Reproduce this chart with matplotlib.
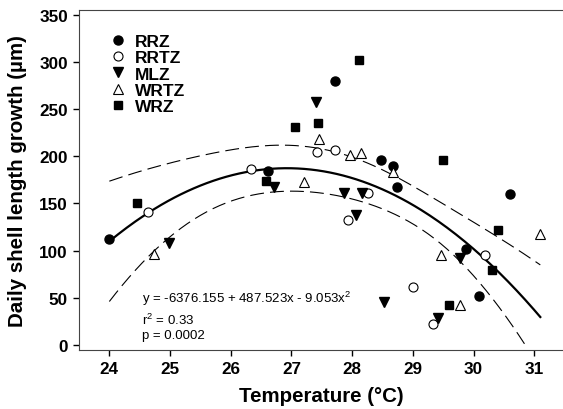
import numpy as np
import matplotlib
matplotlib.use("Agg")
import matplotlib.pyplot as plt

plt.rcParams['font.family'] = ['Liberation Sans', 'DejaVu Sans']
plt.rcParams['mathtext.default'] = 'regular'

# temperatures (°C) and daily growth (µm) per site
rrz_t = [24.0, 26.62, 27.72, 28.48, 28.67, 28.74, 29.88, 30.09, 30.6]
rrz_g = [112, 184, 280, 196, 190, 167, 102, 52, 160]
rrtz_t = [24.63, 26.33, 27.42, 27.72, 27.94, 28.26, 29.01, 29.34, 30.19]
rrtz_g = [141, 187, 205, 207, 132, 161, 61, 22, 95]
mlz_t = [24.98, 26.71, 27.41, 27.87, 28.06, 28.17, 28.53, 29.42, 29.78]
mlz_g = [108, 167, 258, 161, 138, 161, 46, 29, 92]
wrtz_t = [24.74, 27.21, 27.45, 27.96, 28.14, 28.68, 29.47, 29.77, 31.1]
wrtz_g = [96, 173, 218, 201, 204, 183, 95, 42, 118]
wrz_t = [24.45, 26.58, 27.06, 27.43, 28.11, 29.5, 29.6, 30.3, 30.41]
wrz_g = [150, 174, 231, 235, 302, 196, 42, 79, 122]

# published quadratic fit
coef = [-6376.155, 487.523, -9.053]

fig = plt.figure(figsize=(5.63, 4.10), dpi=100)
ax = fig.add_axes([0.1403, 0.1446, 0.8625, 0.8284])

# 95% confidence band from the pooled points
t_all = np.array(rrz_t + rrtz_t + mlz_t + wrtz_t + wrz_t)
g_all = np.array(rrz_g + rrtz_g + mlz_g + wrtz_g + wrz_g)
X = np.column_stack([np.ones_like(t_all), t_all, t_all ** 2])
beta = np.array(coef)
resid = g_all - X @ beta
n = len(g_all)
s2 = np.sum(resid ** 2) / (n - 3)
XtX_inv = np.linalg.inv(X.T @ X)

xs = np.linspace(24.0, 31.1, 200)
Xs = np.column_stack([np.ones_like(xs), xs, xs ** 2])
fit = Xs @ beta
se = np.sqrt(s2 * np.einsum('ij,jk,ik->i', Xs, XtX_inv, Xs))
tval = 2.018
upper = fit + tval * se
lower = fit - tval * se
lower = np.where(lower >= 0, lower, np.nan)

ax.plot(xs, fit, color='black', lw=1.6, zorder=2)
ax.plot(xs, upper, color='black', lw=0.8, dashes=(12.5, 5.5), zorder=2)
ax.plot(xs, lower, color='black', lw=0.8, dashes=(12.5, 5.5), zorder=2)

ax.plot(rrz_t, rrz_g, 'o', ms=6.5, mfc='black', mec='black', ls='none', label='RRZ', zorder=3)
ax.plot(rrtz_t, rrtz_g, 'o', ms=6.5, mfc='white', mec='black', mew=0.8, ls='none', label='RRTZ', zorder=3)
ax.plot(mlz_t, mlz_g, 'v', ms=7, mfc='black', mec='black', ls='none', label='MLZ', zorder=3)
ax.plot(wrtz_t, wrtz_g, '^', ms=7, mfc='white', mec='black', mew=0.8, ls='none', label='WRTZ', zorder=3)
ax.plot(wrz_t, wrz_g, 's', ms=6, mfc='black', mec='black', ls='none', label='WRZ', zorder=3)

ax.text(24.54, 50, 'y = -6376.155 + 487.523x - 9.053x$^2$', fontsize=9.5, va='center')
ax.text(24.54, 27.5, 'r$^2$ = 0.33', fontsize=9.5, va='center')
ax.text(24.54, 11, 'p = 0.0002', fontsize=9.5, va='center')

leg = ax.legend(loc='upper left', bbox_to_anchor=(0.045, 0.955), frameon=False,
                prop={'weight': 'bold', 'size': 12.5}, handlelength=1.0,
                handletextpad=0.45, labelspacing=0.06, borderpad=0)

ax.set_xlim(23.5, 31.5)
ax.set_ylim(-5, 355)
ax.set_xticks(range(24, 32))
ax.set_yticks(range(0, 351, 50))
ax.tick_params(direction='out', length=4, width=1, pad=4, labelsize=12.3)
for lab in ax.get_xticklabels() + ax.get_yticklabels():
    lab.set_fontweight('bold')
for sp in ax.spines.values():
    sp.set_color('#444444')

ax.set_xlabel('Temperature (°C)', fontsize=14.8, fontweight='bold', labelpad=7)
ax.set_ylabel('Daily shell length growth (µm)', fontsize=14.8, fontweight='bold', labelpad=9)

fig.savefig('out.png', dpi=100)
